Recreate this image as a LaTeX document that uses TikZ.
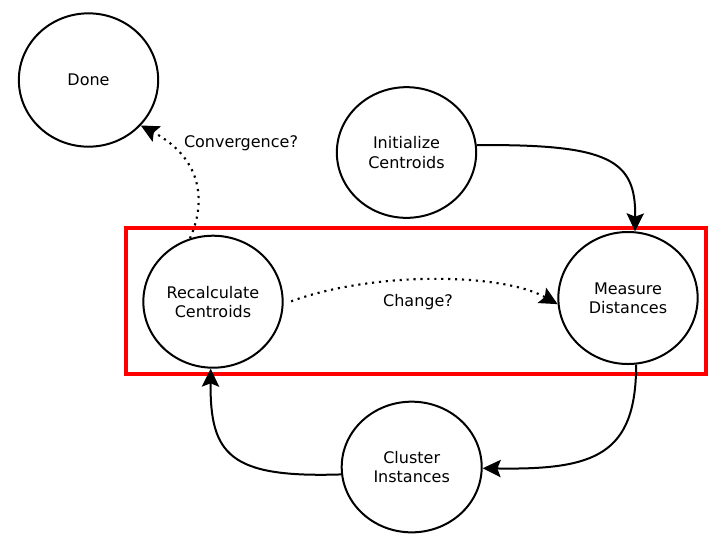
\documentclass[tikz,border=0pt]{standalone}
\usepackage{fontspec}
\setmainfont{DejaVu Sans}
\usetikzlibrary{shapes.geometric,arrows.meta}
\tikzset{
  px/.style={x=0.75pt,y=-0.75pt},
  state/.style={ellipse,draw=black,line width=1.5pt,fill=white,minimum width=104.5pt,minimum height=99pt,inner sep=0pt,align=center,font=\fontsize{12pt}{14.5pt}\selectfont},
  lbl/.style={inner sep=1pt,font=\fontsize{12pt}{14.5pt}\selectfont},
  flow/.style={line width=1.5pt,-{Stealth[length=13.5pt,width=13pt,inset=2.5pt]}},
  cond/.style={flow,line width=1.6pt,dash pattern=on 1.6pt off 3.6pt},
  frame/.style={draw=red,line width=2.3pt}
}
\begin{document}
\begin{tikzpicture}[px]
\useasboundingbox (0,0) rectangle (713,544);
\draw[frame] (126,228) rectangle (706,374);
\node[state,minimum height=100pt] (done) at (88.5,80) {Done};
\node[state,minimum height=98pt] (init) at (406.5,152.5) {Initialize\\Centroids};
\node[state] (rec) at (213,301.7) {Recalculate\\Centroids};
\node[state] (meas) at (628,298) {Measure\\Distances};
\node[state,minimum width=105pt,minimum height=98pt] (clu) at (411.7,467) {Cluster\\Instances};
\node[lbl] (conv) at (241,143) {Convergence?};
\node[lbl] (chg) at (418,302) {Change?};
\draw[flow] (init.6.5) .. controls (610,144) and (636,160) .. (meas.84);
\draw[flow] (meas.-83) .. controls (636,455) and (595,470) .. (clu.-1);
\draw[flow] (clu.186.5) .. controls (230,478) and (210,455) .. (rec.268.3);
\draw[cond] (rec.110.5) .. controls (205,205) and (205,160) .. (done.-41);
\draw[cond,shorten <=6pt] (rec.-2.5) .. controls (370,272) and (500,272) .. (meas.185.7);
\end{tikzpicture}
\end{document}
